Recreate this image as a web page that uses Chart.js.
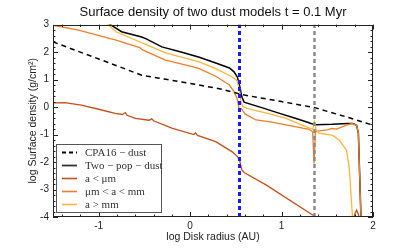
<!DOCTYPE html>
<html>
<head>
<meta charset="utf-8">
<script src="https://cdn.jsdelivr.net/npm/chart.js@4"></script>
<style>
html,body{margin:0;padding:0;background:#fff;}
#c{display:block;}
</style>
</head>
<body>
<canvas id="c" width="415" height="249"></canvas>
<script>
// log r (AU) / log sigma (g/cm^2)
const cpaR = [-1.5, -1.0, -0.53, -0.25, 0.0, 0.33, 0.57, 1.0, 1.36, 1.7, 2.0];
const cpaSigma = [2.37, 1.75, 1.16, 1.0, 0.86, 0.66, 0.45, 0.2, -0.02, -0.35, -0.66];

const twoPopR = [-0.92, -0.75, -0.53, -0.48, -0.31, -0.1, 0.1, 0.28, 0.43, 0.48, 0.515, 0.54, 0.565, 0.59, 0.8, 0.97, 1.15, 1.30, 1.34, 1.38, 1.55, 1.72, 1.78, 1.82, 1.84, 1.87];
const twoPopSigma = [3.1, 2.74, 2.55, 2.48, 2.19, 2.0, 1.81, 1.6, 1.42, 1.28, 1.10, 0.8, 0.37, 0.18, -0.04, -0.22, -0.41, -0.57, -0.62, -0.64, -0.63, -0.6, -0.6, -0.66, -0.95, -4.2];

const smallR = [-1.52, -1.37, -1.19, -1.0, -0.82, -0.74, -0.71, -0.69, -0.6, -0.45, -0.42, -0.40, -0.2, 0.04, 0.06, 0.08, 0.28, 0.46, 0.52, 0.545, 0.565, 0.59, 0.83, 1.34, 1.42, 1.78, 1.80, 1.82, 1.84, 1.86];
const smallSigma = [0.15, 0.16, 0.07, -0.08, -0.23, -0.27, -0.2, -0.3, -0.41, -0.48, -0.43, -0.5, -0.77, -1.0, -0.94, -1.03, -1.26, -1.63, -1.81, -1.99, -2.29, -2.38, -2.83, -3.93, -4.1, -4.2, -3.9, -3.75, -3.9, -4.2];

const midR = [-1.52, -1.22, -0.82, -0.55, -0.52, -0.27, -0.01, 0.1, 0.28, 0.43, 0.48, 0.515, 0.535, 0.545, 0.56, 0.6, 0.72, 0.86, 1.05, 1.30, 1.34, 1.355, 1.37, 1.41, 1.5, 1.55, 1.6, 1.71, 1.77, 1.82, 1.84, 1.87];
const midSigma = [2.99, 2.8, 2.44, 2.16, 2.08, 1.71, 1.5, 1.40, 1.12, 0.8, 0.56, 0.3, -0.05, -0.11, -0.06, -0.25, -0.47, -0.53, -0.65, -0.81, -0.9, -2.05, -0.9, -0.87, -0.83, -0.78, -0.8, -0.66, -0.6, -0.66, -0.95, -4.2];

const bigR = [-0.95, -0.81, -0.6, -0.53, -0.5, -0.27, 0.1, 0.28, 0.43, 0.48, 0.515, 0.54, 0.555, 0.575, 0.62, 0.86, 1.05, 1.27, 1.34, 1.36, 1.38, 1.41, 1.56, 1.63, 1.71, 1.74, 1.78];
const bigSigma = [3.15, 2.74, 2.44, 2.34, 2.30, 1.97, 1.64, 1.40, 1.15, 1.05, 0.95, 0.6, 0.2, 0.02, -0.05, -0.24, -0.41, -0.72, -0.8, -0.54, -0.85, -0.95, -1.03, -1.2, -1.57, -2.2, -4.2];

// vertical marker positions (log AU)
const markerR = [0.54, 1.36];

const xTicks = [-1, 0, 1, 2];
const yTicks = [-4, -3, -2, -1, 0, 1, 2, 3];

const legendLabels = ['CPA16 \u2212 dust', 'Two \u2212 pop \u2212 dust', 'a < \u03bcm', '\u03bcm < a < mm', 'a > mm'];

const C_SMALL = '#c4501a', C_MID = '#f07d28', C_BIG = '#ffb43a';

function pts(xs, ys){ return xs.map((x,i)=>({x:x, y:ys[i]})); }
function vline(x){ return [{x:x, y:-4}, {x:x, y:3}]; }

const legendItems = [
    {label: legendLabels[0], color:'#000', dash:[4,3], width:1.8},
    {label: legendLabels[1], color:'#333', dash:[], width:1.8},
    {label: legendLabels[2], color:C_SMALL, dash:[], width:1.6},
    {label: legendLabels[3], color:C_MID, dash:[], width:1.6},
    {label: legendLabels[4], color:C_BIG, dash:[], width:1.6}
];

// box, inward ticks and the legend inside the plot
const framePlugin = {
    id:'frame',
    afterDatasetsDraw(chart){
        const ctx = chart.ctx, a = chart.chartArea, x = chart.scales.x, y = chart.scales.y;
        ctx.save();
        ctx.strokeStyle = '#222';
        ctx.lineWidth = 1;
        ctx.beginPath();
        for(let k=-7;k<=10;k++){
            const px = Math.round(x.getPixelForValue(k*0.2))+0.5;
            const len = (k%5===0) ? 5 : 2.5;
            ctx.moveTo(px, a.bottom); ctx.lineTo(px, a.bottom-len);
            ctx.moveTo(px, a.top); ctx.lineTo(px, a.top+len);
        }
        for(let k=-20;k<=15;k++){
            const py = Math.round(y.getPixelForValue(k*0.2))+0.5;
            const len = (k%5===0) ? 5 : 2.5;
            ctx.moveTo(a.left, py); ctx.lineTo(a.left+len, py);
            ctx.moveTo(a.right, py); ctx.lineTo(a.right-len, py);
        }
        ctx.stroke();
        ctx.strokeRect(Math.round(a.left)+0.5, Math.round(a.top)+0.5, Math.round(a.right-a.left)-1, Math.round(a.bottom-a.top)-1);

        // legend
        const lx = 56.5, ly = 144.5, lw = 105, lh = 68;
        ctx.fillStyle = '#fff';
        ctx.fillRect(lx, ly, lw, lh);
        ctx.strokeStyle = '#555';
        ctx.strokeRect(lx, ly, lw, lh);
        ctx.font = '11px "Liberation Serif", "DejaVu Serif", serif';
        ctx.textBaseline = 'middle';
        legendItems.forEach((it,i)=>{
            const yy = 152.5 + i*13;
            ctx.beginPath();
            ctx.strokeStyle = it.color;
            ctx.lineWidth = it.width;
            ctx.setLineDash(it.dash);
            ctx.moveTo(62, yy); ctx.lineTo(77, yy);
            ctx.stroke();
            ctx.setLineDash([]);
            ctx.fillStyle = '#333';
            ctx.fillText(it.label, 85, yy+0.5);
        });
        ctx.restore();
    }
};

new Chart(document.getElementById('c'), {
    type:'scatter',
    data:{
        datasets:[
            {data:vline(markerR[0]), borderColor:'#1a1aff', borderWidth:3, borderDash:[4,3]},
            {data:vline(markerR[1]), borderColor:'#8a8a8a', borderWidth:2.5, borderDash:[4,3]},
            {data:pts(cpaR, cpaSigma), borderColor:'#000', borderWidth:1.5, borderDash:[5,4]},
            {data:pts(bigR, bigSigma), borderColor:C_BIG, borderWidth:1.3},
            {data:pts(midR, midSigma), borderColor:C_MID, borderWidth:1.3},
            {data:pts(smallR, smallSigma), borderColor:C_SMALL, borderWidth:1.3},
            {data:pts(twoPopR, twoPopSigma), borderColor:'#000', borderWidth:1.5}
        ].map(d=>Object.assign({showLine:true, pointRadius:0, fill:false, tension:0}, d))
    },
    options:{
        responsive:false,
        animation:false,
        devicePixelRatio:1,
        layout:{padding:{left:0, right:42, top:0, bottom:0}},
        plugins:{
            legend:{display:false},
            tooltip:{enabled:false},
            title:{
                display:true, fullSize:false,
                text:'Surface density of two dust models t = 0.1 Myr',
                color:'#111',
                font:{family:'"Liberation Sans", Arial, sans-serif', size:13, weight:'normal'},
                padding:{top:5, bottom:4}
            }
        },
        scales:{
            x:{
                type:'linear', min:-1.5, max:2,
                grid:{display:false, drawTicks:false},
                border:{display:false},
                ticks:{stepSize:1, color:'#222', padding:3, maxRotation:0,
                       font:{family:'"Liberation Sans", Arial, sans-serif', size:10}},
                afterBuildTicks:s=>{ s.ticks = xTicks.map(v=>({value:v})); },
                afterFit:s=>{ s.height = 32; },
                title:{display:true, text:'log Disk radius (AU)', color:'#222',
                       font:{family:'"Liberation Sans", Arial, sans-serif', size:10.5},
                       padding:{top:0, bottom:6}}
            },
            y:{
                type:'linear', min:-4, max:3,
                grid:{display:false, drawTicks:false},
                border:{display:false},
                ticks:{stepSize:1, color:'#222', padding:4,
                       font:{family:'"Liberation Sans", Arial, sans-serif', size:10}},
                afterBuildTicks:s=>{ s.ticks = yTicks.map(v=>({value:v})); },
                afterFit:s=>{ s.width = 53; },
                title:{display:true, text:'log Surface density (g/cm\u00b2)', color:'#222',
                       font:{family:'"Liberation Sans", Arial, sans-serif', size:10.5},
                       padding:{top:27, bottom:0}}
            }
        }
    },
    plugins:[framePlugin]
});
</script>
</body>
</html>
